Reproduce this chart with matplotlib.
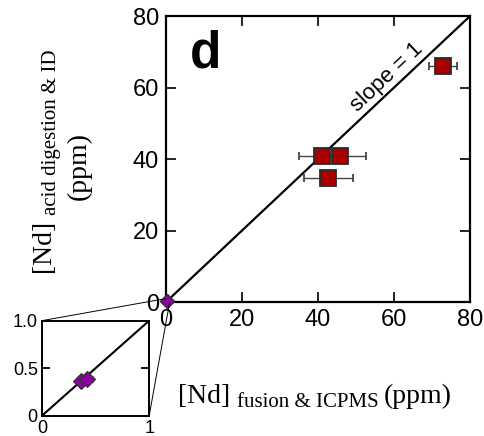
import matplotlib
matplotlib.use('Agg')
import matplotlib.pyplot as plt
from matplotlib.patches import ConnectionPatch
from matplotlib.transforms import IdentityTransform
import numpy as np

plt.rcParams['font.family'] = 'Liberation Sans'

# fusion & ICPMS (x) vs acid digestion & ID (y), ppm
x_red = [41.2, 45.8, 42.7, 73.0]
y_red = [40.8, 40.8, 34.6, 66.0]
xerr_lo = [6.2, 6.0, 6.4, 3.7]
xerr_hi = [5.0, 6.8, 6.4, 3.5]

x_pur = [0.36, 0.42]
y_pur = [0.36, 0.39]
xerr_pur = [0.03, 0.06]

main_ticks = [0, 20, 40, 60, 80]

fig = plt.figure(figsize=(4.85, 4.36), dpi=100)
ax = fig.add_axes([0.342, 0.307, 0.627, 0.656])

ax.plot([0, 80], [0, 80], color='black', lw=1.6, zorder=1)
ax.errorbar(x_red, y_red, xerr=[xerr_lo, xerr_hi], fmt='s', ms=11,
            mfc='#a80000', mec='#2a2a2a', mew=1.3, ecolor='#444444',
            elinewidth=1.0, capsize=3, zorder=3)
ax.plot(x_pur, y_pur, 'D', ms=7, mfc='#8b00a0', mec='#333333', mew=0.9,
        zorder=4, clip_on=False)
ax.set_xlim(0, 80)
ax.set_ylim(0, 80)
ax.set_xticks(main_ticks)
ax.set_yticks(main_ticks)
ax.tick_params(direction='in', length=7, width=1.2, labelsize=17,
               top=True, right=True, pad=5)
for s in ax.spines.values():
    s.set_linewidth(1.6)

ax.text(6.3, 69.4, 'd', fontsize=37, fontweight='bold', ha='left', va='center')
ax.text(58.2, 63.0, 'slope = 1', fontsize=16, rotation=43.3,
        ha='center', va='center', rotation_mode='anchor')

# axis labels with small subscripts, put together piece by piece (pixels)
renderer = fig.canvas.get_renderer()


def label_pieces(cx, cy, pieces, rot=0):
    # pieces: (text, size, baseline drop in px)
    arts = []
    total = 0
    for s, size, drop in pieces:
        t = fig.text(0, 0, s, family='Liberation Serif', fontsize=size,
                     ha='left', va='baseline', rotation=rot,
                     rotation_mode='anchor', transform=IdentityTransform())
        bb = t.get_window_extent(renderer)
        w = bb.width if rot == 0 else bb.height
        arts.append((t, w, drop))
        total += w
    pos = -total / 2
    for t, w, drop in arts:
        if rot == 0:
            t.set_position((cx + pos, cy - drop))
        else:
            t.set_position((cx + drop, cy + pos))
        pos += w


label_pieces(315, 436 - 403,
             [('[Nd] ', 20, 0), ('fusion & ICPMS ', 15, 4), ('(ppm)', 20, 0)])
label_pieces(52, 436 - 162,
             [('[Nd] ', 20, 0), ('acid digestion & ID', 15, 4)], rot=90)
label_pieces(86, 436 - 166, [('(ppm)', 20, 0)], rot=90)

# zoom inset near the origin
ins = fig.add_axes([0.0866, 0.0466, 0.221, 0.218])
ins.plot([0, 1], [0, 1], color='black', lw=1.5, zorder=1)
ins.errorbar(x_pur, y_pur, xerr=xerr_pur, fmt='D', ms=8, mfc='#8b00a0',
             mec='#333333', mew=0.8, ecolor='#444444', elinewidth=1.0,
             capsize=2, zorder=3)
ins.set_xlim(0, 1)
ins.set_ylim(0, 1)
ins.set_xticks([0, 1])
ins.set_xticklabels(['0', '1'])
ins.set_yticks([0, 0.5, 1])
ins.set_yticklabels(['0', '0.5', '1.0'])
ins.tick_params(direction='in', length=6, width=1.3, labelsize=13,
                right=True, pad=3)
for s in ins.spines.values():
    s.set_linewidth(1.4)

for xa, ya, xb, yb in [(0, 1, 0, 1), (1, 0, 1, 0)]:
    con = ConnectionPatch(xyA=(xa, ya), coordsA=ins.transData,
                          xyB=(xb, yb), coordsB=ax.transData,
                          color='black', lw=0.7)
    fig.add_artist(con)

fig.savefig('out.png', dpi=100)
